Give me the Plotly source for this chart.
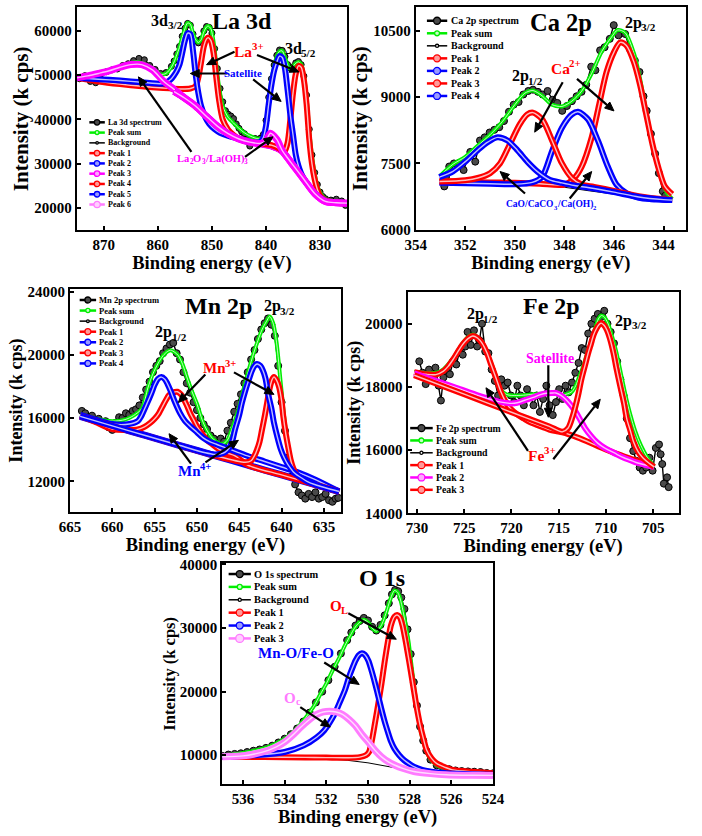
import math
import plotly.graph_objects as go

W, H = 702, 836
FONT = "Liberation Serif"

# ======================= DATA =======================
# ---- La 3d ----
LA_SPEC_X = [874.5, 873.5, 872.5, 871.5, 870.5, 869.5, 868.5, 867.5, 866.5, 865.5,
             864.5, 863.5, 862.5, 861.5, 860.5, 859.5, 858.5, 857.5, 857, 856.5,
             856, 855.5, 855, 854.5, 854, 853.5, 853, 852.5, 852, 851.5,
             851, 850.5, 850, 849.5, 849, 848.5, 848, 847.5, 847, 846.5,
             846, 845.5, 845, 844.5, 844, 843.5, 843, 842.5, 842, 841.5,
             841, 840.5, 840, 839.5, 839, 838.5, 838, 837.5, 837, 836.5,
             836, 835.5, 835, 834.5, 834, 833.5, 833, 832.5, 832, 831.5,
             831, 830.5, 830, 829.5, 829, 828, 827, 826, 825.3]
LA_SPEC_Y = [49200, 49900, 48600, 48300, 50300, 50800, 51200, 51400, 52200, 52600,
             53300, 53800, 53500, 52200, 51300, 50400, 50600, 52000, 53200, 54800,
             56500, 58800, 60600, 61700, 61300, 59300, 57900, 57300, 58200, 60000,
             61000, 60800, 59500, 56000, 51500, 47000, 44000, 42000, 41200, 40800,
             40200, 39000, 38000, 37200, 36800, 35500, 34000, 35400, 35700, 35500,
             35800, 36600, 39800, 45000, 49200, 52300, 54500, 55700, 55600, 54200,
             52400, 51600, 51900, 52800, 53100, 52400, 49800, 45500, 37800, 32000,
             28000, 25300, 23600, 22600, 22100, 21800, 22000, 21600, 20600]
LA_SUM_X = [875, 873, 871, 869, 867, 865, 864, 863, 861, 859.5,
            858.5, 857.5, 857, 856.5, 856, 855.5, 855, 854.5, 854, 853.5,
            853, 852.5, 852, 851.5, 851, 850.7, 850.2, 849.7, 849.2, 848.7,
            848, 847, 846, 845, 844, 843, 842, 841, 840.5, 840,
            839.5, 839, 838.5, 838, 837.5, 837, 836.5, 836, 835.7, 835.3,
            834.5, 834, 833.5, 833, 832.5, 832, 831.5, 831, 830.5, 830,
            829, 828, 827, 825]
LA_SUM_Y = [49400, 49700, 50100, 50800, 51700, 52700, 53000, 52800, 51500, 50200,
            50400, 51800, 53000, 54600, 56300, 58500, 60500, 61800, 61500, 59500,
            58000, 57400, 58000, 59800, 60900, 61100, 60500, 57500, 52500, 47500,
            43000, 40500, 39200, 38000, 37000, 36300, 35800, 35600, 36300, 39500,
            44500, 49000, 52000, 54300, 55400, 55500, 54000, 52300, 51500, 51700,
            52700, 53000, 52500, 50000, 45000, 37500, 31800, 27800, 25000, 23500,
            22000, 21500, 21300, 21100]
LA_BG_X = [875, 871, 867, 863, 859, 857, 855, 853, 851, 849, 847,
           845, 843, 841, 839, 837, 835, 833, 831, 829, 827, 825]
LA_BG_Y = [49300, 48800, 48200, 47600, 47000, 46300, 44800, 43000, 40700, 38500, 36800,
           35600, 34900, 34500, 34000, 32800, 29700, 26500, 23300, 21500, 21200, 21100]
LA_P1_X = [875, 871, 867, 863, 859, 856, 854, 853, 852.5, 852,
           851.5, 851, 850.7, 850.2, 849.7, 849.2, 848.7, 848, 847, 846,
           845, 843, 841, 839, 837, 835, 833, 831, 829, 827, 825]
LA_P1_Y = [49400, 48600, 48000, 47500, 47100, 46900, 47000, 47600, 49600, 53000,
           56500, 58200, 58500, 57800, 55000, 49500, 44500, 40000, 37700, 36500,
           35700, 35000, 34500, 34000, 32800, 29700, 26500, 23300, 21500, 21200, 21100]
LA_P2_X = [875, 871, 867, 863, 859, 858.5, 857.5, 857, 856.5, 856,
           855.5, 855, 854.5, 854, 853.5, 853, 852.5, 852, 851.3, 850.5,
           849.5, 848.5, 847, 845, 843, 841, 839, 837, 835, 833,
           831, 829, 827, 825]
LA_P2_Y = [49400, 49100, 48800, 48400, 48100, 48300, 49200, 50000, 51000, 52400,
           55000, 57800, 59500, 59300, 55500, 50000, 45900, 43000, 40700, 39000,
           37800, 37000, 36300, 35700, 35000, 34500, 34000, 32800, 29700, 26500,
           23300, 21500, 21200, 21100]
LA_P3_X = [875, 873, 871, 869, 867, 865, 863, 861, 859, 857, 855, 853, 851,
           849, 847, 845, 843, 841, 839, 837, 835, 833, 831, 829, 827, 825]
LA_P3_Y = [49400, 49850, 50400, 51000, 51800, 52400, 52400, 51200, 48700, 46800, 44800, 43000, 40700,
           38500, 36800, 35600, 34900, 34500, 34000, 32800, 29700, 26500, 23300, 21500, 21200, 21100]
LA_P4_X = [857, 855, 853, 851, 849, 847, 845, 843, 841, 839,
           837.5, 837, 836.5, 836, 835.5, 835, 834.5, 834, 833.5, 833,
           832.5, 832, 831.5, 831, 830.5, 830, 829, 827, 825]
LA_P4_Y = [46300, 44800, 43000, 40700, 38500, 36800, 35600, 34900, 34600, 34200,
           33400, 32900, 33000, 34800, 40000, 46000, 50300, 52100, 51800, 49000,
           43500, 35500, 30000, 26500, 24200, 22800, 21700, 21200, 21100]
LA_P5_X = [857, 855, 853, 851, 849, 847, 845, 843, 841.5, 841,
           840.5, 840, 839.5, 839, 838.5, 838, 837.5, 837, 836.5, 836,
           835.5, 835, 834.5, 834, 833.5, 833, 832, 831, 829, 827, 825]
LA_P5_Y = [46300, 44800, 43000, 40700, 38500, 36800, 35600, 34900, 34800, 35000,
           35900, 38600, 43500, 47800, 51000, 53000, 54300, 54000, 51500, 46500,
           41000, 36500, 32000, 29500, 27800, 26600, 24900, 23400, 21600, 21200, 21100]
LA_P6_X = [857, 855, 853, 851, 849, 847, 845, 843, 841, 840,
           839.2, 838, 837, 836, 835, 833, 831, 829, 827, 825]
LA_P6_Y = [46300, 44800, 43000, 40700, 38500, 36800, 35600, 34900, 34600, 35200,
           36900, 35500, 33000, 31300, 29700, 26500, 23300, 21500, 21200, 21100]

# ---- Ca 2p ----
CA_SPEC_X = [352.85, 352.78, 352.65, 352.46, 352.26, 352.07, 351.8, 351.6, 351.41, 351.22,
             351.02, 350.83, 350.63, 350.44, 350.24, 350.05, 349.85, 349.66, 349.46, 349.27,
             349.07, 348.88, 348.68, 348.48, 348.29, 348.09, 347.9, 347.7, 347.51, 347.31,
             347.12, 346.92, 346.75, 346.56, 346.38, 346.17, 346.01, 345.82, 345.55, 345.36,
             345.16, 344.97, 344.81, 344.68, 344.51, 344.34, 344.19, 344.03, 343.93]
CA_SPEC_Y = [6980, 7200, 7430, 7500, 7510, 7350, 7760, 7540, 8020, 8090,
             8200, 8260, 8320, 8460, 8670, 8830, 8890, 9060, 9140, 9170,
             9120, 9060, 9140, 8940, 8870, 8690, 8800, 8910, 9020, 9120,
             9280, 9690, 9610, 10060, 10130, 10320, 10630, 10400, 10430, 10090,
             9830, 9570, 9020, 8690, 8170, 7720, 7280, 6870, 6770]
CA_SUM_X = [353.0, 352.5, 352.0, 351.5, 351.0, 350.5, 350.0, 349.6, 349.27, 348.9,
            348.5, 348.1, 347.7, 347.3, 346.9, 346.5, 346.1, 345.85, 345.55, 345.2,
            344.95, 344.7, 344.45, 344.2, 343.9, 343.65]
CA_SUM_Y = [7230, 7480, 7650, 7900, 8150, 8450, 8830, 9090, 9150, 9030,
            8830, 8790, 8910, 9140, 9540, 10030, 10360, 10520, 10460, 10000,
            9420, 8680, 7940, 7350, 6870, 6690]
CA_BG_X = [353.05, 352, 351, 350, 349, 348, 347, 346, 345, 344, 343.65]
CA_BG_Y = [7080, 7070, 7060, 7040, 7010, 6960, 6880, 6800, 6730, 6680, 6670]
CA_P1_X = [353.05, 352.0, 351.0, 350.0, 349.0, 348.0, 347.6, 347.3, 346.9, 346.6,
           346.3, 346.0, 345.75, 345.5, 345.2, 344.95, 344.7, 344.45, 344.2, 343.95, 343.65]
CA_P1_Y = [7090, 7080, 7070, 7060, 7040, 7020, 7170, 7430, 8090, 8830,
           9570, 10020, 10240, 10170, 9800, 9280, 8610, 7940, 7390, 6980, 6800]
CA_P2_X = [353.05, 352.0, 351.0, 350.0, 349.3, 348.9, 348.5, 348.1, 347.7, 347.45,
           347.05, 346.65, 346.25, 345.9, 345.5, 345.0, 344.5, 344.0, 343.65]
CA_P2_Y = [7060, 7050, 7040, 7030, 7070, 7200, 7780, 8310, 8610, 8670,
           8500, 8020, 7430, 7020, 6830, 6720, 6690, 6680, 6670]
CA_P3_X = [353.05, 352.0, 351.5, 351.0, 350.6, 350.2, 349.8, 349.5, 349.27, 348.9,
           348.5, 348.1, 347.7, 347.3, 346.8, 346.0, 345.0, 344.0, 343.65]
CA_P3_Y = [7090, 7120, 7170, 7280, 7500, 7940, 8390, 8610, 8650, 8500,
           8020, 7500, 7170, 7020, 6970, 6880, 6760, 6690, 6680]
CA_P4_X = [353.05, 352.5, 352.0, 351.5, 351.1, 350.7, 350.3, 349.9, 349.5, 349.1,
           348.6, 348.1, 347.6, 347.0, 346.0, 345.0, 344.0, 343.65]
CA_P4_Y = [7190, 7320, 7540, 7800, 7980, 8090, 8020, 7800, 7540, 7320,
           7130, 7060, 7000, 6950, 6850, 6740, 6680, 6670]

# ---- Mn 2p ----
MN_SPEC_X = [663.6, 663.2, 662.8, 662.4, 662.0, 661.6, 661.2, 660.8, 660.4, 660.0,
             659.6, 659.2, 658.8, 658.4, 658.0, 657.6, 657.2, 656.8, 656.4, 656.0,
             655.6, 655.2, 654.8, 654.4, 654.0, 653.6, 653.2, 652.8, 652.4, 652.0,
             651.6, 651.2, 650.8, 650.4, 650.0, 649.6, 649.2, 648.8, 648.4, 648.0,
             647.6, 647.2, 646.8, 646.4, 646.0, 645.6, 645.2, 644.8, 644.4, 644.0,
             643.6, 643.2, 642.8, 642.4, 642.0, 641.6, 641.2, 640.8, 640.4, 640.0,
             639.6, 639.2, 638.8, 638.4, 638.0, 637.6, 637.2, 636.8, 636.4, 636.0,
             635.6, 635.2, 634.8, 634.4, 634.0, 633.6, 633.3]
MN_SPEC_Y = [16450, 16300, 16050, 16150, 15850, 15950, 15700, 15800, 15400, 15250,
             15700, 16050, 16000, 16300, 16200, 16450, 16550, 16800, 17300, 17800,
             18300, 18900, 19300, 19600, 20100, 20400, 20650, 20750, 20100, 19700,
             18900, 18200, 17600, 17000, 16500, 16000, 15600, 15300, 14900, 14700,
             14400, 14700, 14500, 15200, 15700, 16400, 16900, 17500, 18200, 18900,
             19700, 20300, 21000, 21600, 22000, 22300, 21900, 21200, 19300, 17000,
             15200, 13500, 12300, 11800, 11300, 11100, 10900, 11200, 11000, 11300,
             10900, 11000, 11200, 10800, 10700, 10900, 10950]
MN_SUM_X = [663.8, 662, 660, 658.5, 657.5, 656.5, 655.8, 655.2, 654.6, 654.0,
            653.5, 653.1, 652.6, 652.2, 651.7, 651.2, 650.6, 650.0, 649.4, 648.9,
            648.3, 647.7, 647.0, 646.4, 645.8, 645.1, 644.5, 643.9, 643.3, 642.8,
            642.3, 641.8, 641.4, 641.0, 640.6, 640.1, 639.7, 639.3, 638.9, 638.6,
            638.2, 637.8, 637.0, 636, 635, 634, 633.2]
MN_SUM_Y = [16200, 15950, 15800, 15900, 16150, 16600, 17900, 18800, 19450, 19950,
            20200, 20290, 20150, 19950, 19400, 18600, 17700, 16900, 15900, 15300,
            14800, 14500, 14350, 14600, 15400, 16500, 17800, 19000, 20100, 20900,
            21600, 22100, 22420, 22000, 20800, 18200, 16100, 14450, 13400, 12800,
            12400, 12150, 11950, 11800, 11650, 11500, 11350]
MN_BG_X = [663.8, 660, 656, 652, 648, 644, 640, 636, 633.2]
MN_BG_Y = [16100, 15500, 14880, 14260, 13640, 13020, 12400, 11780, 11350]
MN_P1_X = [663.8, 662, 660, 658, 657, 656.2, 655.5, 655.0, 654.5, 654.1,
           653.7, 653.3, 652.8, 652.3, 651.9, 651.6, 651.2, 650.8, 650.4, 650.0,
           649.4, 648.9, 648.2, 647.4, 646.5, 645.5, 644, 640, 636, 633.2]
MN_P1_Y = [16150, 15750, 15300, 15250, 15280, 15440, 15700, 15950, 16300, 16700,
           17100, 17450, 17620, 17660, 17500, 17240, 16800, 16310, 15900, 15480,
           15000, 14650, 14350, 14030, 13800, 13600, 13020, 12400, 11780, 11350]
MN_P2_X = [663.8, 662, 660, 658, 657, 656.6, 656, 655.4, 655.0, 654.6,
           654.2, 653.8, 653.5, 653.1, 652.7, 652.0, 651.4, 650.8, 650, 649.3,
           648.5, 647.7, 646.2, 645, 644, 642, 640, 638, 636, 633.2]
MN_P2_Y = [16200, 15900, 15620, 15620, 15800, 16100, 16800, 17550, 18100, 18480,
           18590, 18450, 18180, 17700, 17140, 16310, 15800, 15480, 15100, 14760,
           14500, 14340, 14030, 13800, 13600, 13250, 12900, 12550, 12100, 11350]
MN_P3_X = [663.8, 660, 656, 652, 648, 644.3, 643.6, 643.2, 642.9, 642.6,
           642.3, 642.0, 641.7, 641.4, 641.1, 640.9, 640.6, 640.3, 640.0, 639.8,
           639.5, 639.2, 638.9, 638.6, 638.2, 637.8, 637.4, 636.5, 635, 633.2]
MN_P3_Y = [16100, 15500, 14880, 14260, 13640, 13200, 13300, 13620, 14000, 14500,
           15300, 16100, 17000, 17900, 18450, 18600, 18400, 17970, 17100, 16100,
           15000, 14100, 13300, 12800, 12400, 12200, 12060, 11850, 11620, 11350]
MN_P4_X = [663.8, 660, 656, 652, 649, 648, 647.3, 646.7, 646.2, 645.8,
           645.5, 645.0, 644.7, 644.3, 643.9, 643.5, 643.2, 642.9, 642.5, 642.2,
           641.9, 641.6, 641.2, 640.9, 640.5, 640.1, 639.7, 639.3, 638.9, 638.6,
           638.2, 637.8, 637, 636, 633.2]
MN_P4_Y = [16100, 15500, 14880, 14260, 13800, 13700, 13720, 13830, 14100, 14600,
           15270, 16200, 16930, 17700, 18380, 19000, 19300, 19420, 19300, 19000,
           18500, 17550, 16600, 15690, 14800, 14030, 13500, 13100, 12800, 12580,
           12400, 12270, 12000, 11780, 11350]

# ---- Fe 2p ----
FE_SPEC_X = [729.76, 729.42, 729.08, 728.73, 728.39, 728.05, 727.71, 727.47, 727.2, 726.86,
             726.52, 726.18, 725.84, 725.5, 725.16, 724.89, 724.65, 724.31, 723.97, 723.63,
             723.39, 723.12, 722.78, 722.44, 722.1, 721.76, 721.42, 721.08, 720.74, 720.4,
             720.06, 719.72, 719.38, 719.04, 718.69, 718.35, 718.01, 717.67, 717.33, 716.99,
             716.65, 716.31, 715.97, 715.63, 715.29, 714.95, 714.61, 714.27, 713.93, 713.59,
             713.24, 712.9, 712.56, 712.22, 711.88, 711.54, 711.2, 710.86, 710.52, 710.18,
             709.84, 709.5, 709.15, 708.81, 708.47, 708.13, 707.79, 707.45, 707.11, 706.77,
             706.43, 706.09, 705.74, 705.4, 705.06, 704.72, 704.38, 704.21, 704.04, 703.87,
             703.53, 703.36]
FE_SPEC_Y = [18810, 18450, 18090, 18550, 18240, 18610, 18040, 17570, 18300, 18550,
             18400, 18810, 18710, 19120, 19020, 19280, 19740, 19330, 19790, 19280,
             19480, 20000, 19120, 19070, 18550, 18190, 17730, 18240, 18040, 18140,
             17730, 17520, 18040, 17730, 17420, 17930, 17730, 17420, 17730, 17210,
             17620, 18040, 17420, 17110, 17520, 17930, 17620, 18040, 17830, 18140,
             18450, 18760, 19230, 19170, 19690, 20000, 20160, 20310, 20210, 20410,
             20000, 19740, 19380, 18810, 18240, 17730, 17000, 16380, 15970, 15660,
             15450, 15350, 15450, 15760, 15350, 16070, 16180, 15870, 15560, 14940,
             15140, 14830]
FE_SUM_X = [730.3, 729, 728, 727.2, 726.2, 725.2, 724.6, 724.1, 723.6, 723.1,
            722.6, 722.1, 721.6, 721.1, 720.5, 720.0, 719.3, 718.7, 718.0, 717.3,
            716.6, 716.0, 715.3, 714.6, 714.1, 713.6, 713.2, 712.8, 712.4, 712.0,
            711.5, 711.1, 710.8, 710.5, 710.2, 709.8, 709.4, 708.9, 708.4, 707.9,
            707.4, 706.9, 706.3, 705.6, 704.9]
FE_SUM_Y = [18470, 18440, 18450, 18560, 18900, 19370, 19580, 19660, 19580, 19420,
            19100, 18720, 18300, 17900, 17760, 17730, 17730, 17740, 17760, 17780,
            17790, 17790, 17780, 17740, 17780, 17850, 18040, 18350, 18660, 19050,
            19500, 19900, 20150, 20260, 20220, 20020, 19650, 19100, 18400, 17700,
            17100, 16600, 16150, 15760, 15490]
FE_BG_X = [730.3, 725, 720, 715, 710, 704.9]
FE_BG_Y = [18370, 17770, 17200, 16630, 16060, 15470]
FE_P1_X = [730.3, 729, 728, 727.2, 726.7, 726.2, 725.7, 725.2, 724.6, 724.1,
           723.6, 723.1, 722.6, 722.1, 721.6, 721.1, 720.6, 720.1, 719.4, 718.7,
           718.0, 717.3, 716.6, 716.0, 715.3, 714.6, 713, 711, 709, 707, 704.9]
FE_P1_Y = [18470, 18400, 18390, 18500, 18650, 18860, 19100, 19330, 19530, 19610,
           19550, 19380, 19080, 18660, 18250, 17830, 17520, 17310, 17130, 17000,
           16880, 16800, 16720, 16650, 16600, 16560, 16400, 16150, 15900, 15690, 15470]
FE_P2_X = [730.3, 728, 726, 724.5, 723, 721.1, 720, 719.4, 718.6, 717.7,
           717, 716.3, 715.6, 715.3, 714.8, 714.3, 713.7, 713.2, 712.7, 712.2,
           711.5, 710.9, 710.2, 709.5, 708.8, 708.1, 707.4, 706.8, 705.8, 704.9]
FE_P2_Y = [18430, 18190, 17990, 17830, 17680, 17520, 17480, 17500, 17580, 17670,
           17750, 17800, 17810, 17810, 17740, 17620, 17420, 17210, 16950, 16690,
           16420, 16230, 16080, 15970, 15860, 15760, 15680, 15610, 15530, 15470]
FE_P3_X = [730.3, 725, 720, 716, 714.6, 714.0, 713.6, 713.2, 712.9, 712.6,
           712.2, 711.9, 711.6, 711.3, 711.0, 710.7, 710.5, 710.2, 709.9, 709.6,
           709.2, 708.9, 708.5, 708.1, 707.8, 707.4, 707.1, 706.6, 706.1, 705.5, 704.9]
FE_P3_Y = [18370, 17770, 17200, 16750, 16580, 16700, 17000, 17420, 17800, 18240,
           18700, 19050, 19350, 19650, 19850, 19980, 20020, 19950, 19800, 19550,
           19070, 18600, 18040, 17500, 17000, 16600, 16280, 15950, 15760, 15600, 15470]

# ---- O 1s ----
O_SPEC_X = [537.0, 536.7, 536.4, 536.1, 535.8, 535.5, 535.2, 534.9, 534.6, 534.3,
            534.0, 533.7, 533.4, 533.1, 532.8, 532.5, 532.2, 531.9, 531.6, 531.3,
            531.0, 530.8, 530.6, 530.4, 530.2, 530.0, 529.8, 529.6, 529.4, 529.2,
            529.0, 528.85, 528.7, 528.55, 528.4, 528.25, 528.1, 527.95, 527.8, 527.65,
            527.5, 527.35, 527.2, 527.0, 526.7, 526.4, 526.1, 525.8, 525.5, 525.2,
            524.9, 524.6, 524.3, 524.0]
O_SPEC_Y = [9900, 10100, 10200, 10300, 10500, 10700, 10900, 11150, 11500, 12000,
            12600, 13300, 14200, 15300, 16700, 18300, 20000, 21800, 23900, 26000,
            28100, 29300, 30400, 31100, 31600, 31200, 30200, 29600, 30500, 32000,
            33900, 35300, 36000, 35800, 34800, 33000, 29800, 25900, 21500, 17800,
            14500, 12300, 10700, 9300, 8400, 8000, 7800, 7600, 7500, 7450,
            7400, 7350, 7200, 7150]
O_SUM_X = [536.96, 536.2, 535.6, 534.8, 534.0, 533.6, 533.24, 532.9, 532.6, 532.3,
           532.0, 531.7, 531.37, 531.1, 530.9, 530.7, 530.5, 530.2, 530.0, 529.8,
           529.6, 529.4, 529.28, 529.1, 528.97, 528.85, 528.73, 528.6, 528.5, 528.35,
           528.19, 528.05, 527.96, 527.85, 527.72, 527.6, 527.49, 527.35, 527.18, 527.0,
           526.7, 526.4, 526.0, 525.5, 525.0, 524.5, 524.0]
O_SUM_Y = [9950, 10250, 10600, 11280, 12560, 13600, 14870, 16300, 17700, 19500,
           21250, 23300, 25400, 27300, 28500, 29700, 30600, 31300, 30900, 30000,
           29500, 30200, 31000, 32700, 34100, 35200, 35900, 35700, 35100, 33200,
           30500, 27800, 25400, 22500, 19200, 16500, 14100, 12200, 10500, 9400,
           8460, 8000, 7700, 7550, 7440, 7300, 7180]
O_BG_X = [537.0, 535.0, 533.0, 532.0, 531.0, 530.0, 529.0, 528.0, 527.0, 526.0, 525.0, 524.0]
O_BG_Y = [9700, 9650, 9550, 9450, 9200, 8800, 8200, 7600, 7150, 6950, 6880, 6850]
O_P1_X = [537.0, 535.0, 533.0, 532.0, 531.0, 530.4, 530.1, 529.95, 529.82, 529.66,
          529.5, 529.35, 529.2, 529.04, 528.9, 528.73, 528.6, 528.47, 528.35, 528.23,
          528.11, 527.95, 527.8, 527.65, 527.49, 527.33, 527.18, 526.95, 526.71, 526.3,
          525.94, 525.0, 524.0]
O_P1_Y = [9740, 9700, 9650, 9620, 9600, 9700, 10000, 10510, 12200, 15130,
          18200, 21280, 24700, 27950, 30400, 31800, 32050, 31700, 30510, 28600,
          26410, 23300, 20260, 17300, 14620, 12500, 10770, 9500, 8720, 8100,
          7690, 7400, 7180]
O_P2_X = [537.0, 535.5, 534.0, 533.08, 532.46, 532.1, 531.84, 531.6, 531.37, 531.1,
          530.91, 530.75, 530.6, 530.45, 530.29, 530.15, 529.98, 529.82, 529.66, 529.5,
          529.35, 529.2, 529.04, 528.9, 528.73, 528.5, 528.27, 528.0, 527.8, 527.4,
          527.02, 526.6, 526.25, 525.0, 524.0]
O_P2_Y = [9740, 10000, 10500, 11540, 12820, 13900, 15130, 16500, 18200, 20300,
          22300, 23700, 24870, 25700, 26050, 25800, 24870, 23200, 21280, 19200,
          17180, 15300, 13590, 12200, 11030, 10000, 9230, 8600, 8200, 7700,
          7440, 7280, 7180, 7000, 6920]
O_P3_X = [537.0, 536.0, 535.5, 534.79, 534.4, 534.01, 533.6, 533.24, 532.85, 532.46,
          532.15, 531.84, 531.53, 531.22, 530.9, 530.6, 530.3, 529.98, 529.67, 529.35,
          529.04, 528.73, 528.3, 527.8, 527.0, 526.25, 525.0, 524.0]
O_P3_Y = [9740, 9900, 10150, 10770, 11300, 12050, 13200, 14360, 15500, 16410,
          16800, 16920, 16800, 16410, 15600, 14620, 13300, 12050, 10800, 9740,
          9000, 8460, 7900, 7440, 7100, 6920, 6840, 6820]

# ======================= STYLE / LAYOUT =======================
RED, BLUE, MAG, PINK, GREEN = "#FF0000", "#0000FF", "#FF00FF", "#FF7BFF", "#00EE00"

fig = go.Figure()


def spectrum(x, y, xa, ya, size=6):
    fig.add_trace(go.Scatter(x=x, y=y, mode="lines+markers", xaxis=xa, yaxis=ya,
                             line=dict(color="black", width=1.4),
                             marker=dict(size=size, color="#4a4a4a",
                                         line=dict(color="black", width=1)),
                             showlegend=False, hoverinfo="skip"))


def band(x, y, color, xa, ya, width=6, inner=1.4):
    fig.add_trace(go.Scatter(x=x, y=y, mode="lines", xaxis=xa, yaxis=ya,
                             line=dict(color=color, width=width, shape="spline", smoothing=0.8),
                             showlegend=False, hoverinfo="skip"))
    fig.add_trace(go.Scatter(x=x, y=y, mode="lines", xaxis=xa, yaxis=ya,
                             line=dict(color="rgba(255,255,255,0.75)", width=inner,
                                       shape="spline", smoothing=0.8),
                             showlegend=False, hoverinfo="skip"))


def background(x, y, xa, ya):
    fig.add_trace(go.Scatter(x=x, y=y, mode="lines", xaxis=xa, yaxis=ya,
                             line=dict(color="black", width=1),
                             showlegend=False, hoverinfo="skip"))


# La 3d
spectrum(LA_SPEC_X, LA_SPEC_Y, "x", "y")
band(LA_SUM_X, LA_SUM_Y, GREEN, "x", "y", width=4, inner=1)
background(LA_BG_X, LA_BG_Y, "x", "y")
band(LA_P1_X, LA_P1_Y, RED, "x", "y")
band(LA_P2_X, LA_P2_Y, BLUE, "x", "y")
band(LA_P3_X, LA_P3_Y, MAG, "x", "y", width=7)
band(LA_P4_X, LA_P4_Y, RED, "x", "y")
band(LA_P5_X, LA_P5_Y, BLUE, "x", "y")
band(LA_P6_X, LA_P6_Y, MAG, "x", "y", width=7)
# Ca 2p
spectrum(CA_SPEC_X, CA_SPEC_Y, "x2", "y2", size=7)
band(CA_SUM_X, CA_SUM_Y, GREEN, "x2", "y2", width=4, inner=1)
background(CA_BG_X, CA_BG_Y, "x2", "y2")
band(CA_P1_X, CA_P1_Y, RED, "x2", "y2")
band(CA_P2_X, CA_P2_Y, BLUE, "x2", "y2")
band(CA_P3_X, CA_P3_Y, RED, "x2", "y2")
band(CA_P4_X, CA_P4_Y, BLUE, "x2", "y2")
# Mn 2p
spectrum(MN_SPEC_X, MN_SPEC_Y, "x3", "y3", size=7)
band(MN_SUM_X, MN_SUM_Y, GREEN, "x3", "y3", width=4, inner=1)
background(MN_BG_X, MN_BG_Y, "x3", "y3")
band(MN_BG_X, MN_BG_Y, BLUE, "x3", "y3", width=7)
band(MN_P1_X, MN_P1_Y, RED, "x3", "y3")
band(MN_P2_X, MN_P2_Y, BLUE, "x3", "y3")
band(MN_P3_X, MN_P3_Y, RED, "x3", "y3")
band(MN_P4_X, MN_P4_Y, BLUE, "x3", "y3")
# Fe 2p
spectrum(FE_SPEC_X, FE_SPEC_Y, "x4", "y4", size=7)
band(FE_SUM_X, FE_SUM_Y, GREEN, "x4", "y4", width=4, inner=1)
background(FE_BG_X, FE_BG_Y, "x4", "y4")
band(FE_P1_X, FE_P1_Y, RED, "x4", "y4")
band(FE_P2_X, FE_P2_Y, MAG, "x4", "y4")
band(FE_P3_X, FE_P3_Y, RED, "x4", "y4")
# O 1s
spectrum(O_SPEC_X, O_SPEC_Y, "x5", "y5", size=7)
band(O_SUM_X, O_SUM_Y, GREEN, "x5", "y5", width=4, inner=1)
background(O_BG_X, O_BG_Y, "x5", "y5")
band(O_P1_X, O_P1_Y, RED, "x5", "y5")
band(O_P2_X, O_P2_Y, BLUE, "x5", "y5")
band(O_P3_X, O_P3_Y, PINK, "x5", "y5", width=7)

# panel geometry (pixel boxes) and axes
PANELS = [
    # (suffix, left, right, top, bottom, xrange, yrange, xticks, yticks, y-title size)
    ("", 68, 347.5, 1.5, 228, [875, 825], [15000, 65300],
     [870, 860, 850, 840, 830], [20000, 30000, 40000, 50000, 60000], 21),
    ("2", 418.5, 697.7, 1.5, 227.5, [354, 343.1], [6000, 11030],
     [354, 352, 350, 348, 346, 344], [6000, 7500, 9000, 10500], 21),
    ("3", 61, 341, 288, 514.7, [665, 633], [10050, 24150],
     [665, 660, 655, 650, 645, 640, 635], [12000, 16000, 20000, 24000], 18),
    ("4", 410, 690.3, 291, 516, [731, 702.3], [14000, 21000],
     [730, 725, 720, 715, 710, 705], [14000, 16000, 18000, 20000], 18),
    ("5", 218.3, 498.3, 566.7, 791.7, [537, 524], [5400, 40200],
     [536, 534, 532, 530, 528, 526, 524], [10000, 20000, 30000, 40000], 16.5),
]

tickfont = dict(family=FONT, size=15, color="black", weight="bold")
layout_axes = {}
for suf, l, r, t, b, xr, yr, xt, yt, yts in PANELS:
    layout_axes["xaxis" + suf] = dict(
        domain=[l / W, r / W], range=xr, anchor="y" + suf, tickvals=xt, tickformat="d",
        ticks="inside", ticklen=4, tickwidth=1.5, tickcolor="black",
        showline=True, mirror=True, linewidth=2, linecolor="black",
        showgrid=False, zeroline=False, tickfont=tickfont,
        title=dict(text="Binding energy (eV)", standoff=0,
                   font=dict(family=FONT, size=18.5, color="black", weight="bold")))
    layout_axes["yaxis" + suf] = dict(
        domain=[1 - b / H, 1 - t / H], range=yr, anchor="x" + suf, tickvals=yt, tickformat="d",
        ticks="inside", ticklen=4, tickwidth=1.5, tickcolor="black",
        showline=True, mirror=True, linewidth=2, linecolor="black",
        showgrid=False, zeroline=False, tickfont=tickfont,
        title=dict(text="Intensity (k cps)", standoff=0,
                   font=dict(family=FONT, size=yts, color="black", weight="bold")))

annotations = []
shapes = []

# approximate advance widths (em) of a bold Times-metric serif, used to lay out
# labels that carry sub- and superscripts piece by piece
CW = {"a": .5, "b": .556, "c": .444, "d": .556, "e": .444, "f": .333, "g": .5, "h": .556,
      "i": .278, "l": .278, "n": .556, "o": .5, "p": .556, "r": .444, "s": .389, "t": .333,
      "C": .722, "F": .667, "H": .778, "L": .667, "M": .944, "O": .778,
      "/": .278, "(": .333, ")": .333, "+": .57, "-": .333, " ": .25}
SUBSCALE = 0.7


def text_w(s, size):
    extra = 1.6 if (s.endswith(")") or s.endswith("CO")) else 0.3
    return sum(CW.get(ch, 0.5) for ch in s) * size + extra


def rich(px, py, parts, size, color="black"):
    """Label centred on (px, py); parts = [(text, 'n'|'sub'|'sup'), ...]."""
    sizes = [size if k == "n" else size * SUBSCALE for _, k in parts]
    widths = [text_w(t, s) for (t, _), s in zip(parts, sizes)]
    x = px - sum(widths) / 2
    for (t, k), s, w in zip(parts, sizes, widths):
        yc = py + (0.3 * size if k == "sub" else -0.32 * size if k == "sup" else 0)
        annotations.append(dict(x=x / W, y=1 - yc / H, xref="paper", yref="paper", text=t,
                                showarrow=False, xanchor="left", yanchor="middle", borderpad=0,
                                font=dict(family=FONT, size=s, color=color, weight="bold")))
        x += w


def txt(px, py, text, size, color="black"):
    annotations.append(dict(x=px / W, y=1 - py / H, xref="paper", yref="paper", text=text,
                            showarrow=False, xanchor="center", yanchor="middle", borderpad=0,
                            font=dict(family=FONT, size=size, color=color, weight="bold")))


def arrow(xa, ya, x, y, ax, ay, head=9.0, half=4.0):
    """Black arrow whose tip sits on data point (x, y); tail offset (ax, ay) in screen px."""
    dx, dy = -ax, ay                      # tail -> tip, y pointing up
    n = math.hypot(dx, dy)
    ux, uy = dx / n, dy / n
    bx, by = -ux * head, -uy * head       # base centre of the head
    nx, ny = -uy * half, ux * half
    common = dict(type="path", xref=xa, yref=ya, xsizemode="pixel", ysizemode="pixel",
                  xanchor=x, yanchor=y)
    shapes.append(dict(path=f"M{ax:.2f},{-ay:.2f} L{bx:.2f},{by:.2f}",
                       line=dict(color="black", width=2.2), **common))
    shapes.append(dict(path=f"M0,0 L{bx + nx:.2f},{by + ny:.2f} L{bx - nx:.2f},{by - ny:.2f} Z",
                       fillcolor="black", line=dict(color="black", width=1), **common))


# La 3d labels
txt(239, 15, "La 3d", 24)
rich(160, 15, [("3d", "n"), ("3/2", "sub")], 16)
rich(298, 43.5, [("3d", "n"), ("5/2", "sub")], 16)
rich(245, 46, [("La", "n"), ("3+", "sup")], 15.5, RED)
txt(240, 68.3, "Satellite", 11, BLUE)
rich(207.5, 155.5, [("La", "n"), ("2", "sub"), ("O", "n"), ("3", "sub"), ("/La(OH)", "n"),
                    ("3", "sub")], 10.5, MAG)
arrow("x", "y", 851.0, 52380, 28, -13)
arrow("x", "y", 833.9, 50740, -42, -17)
arrow("x", "y", 854.0, 50390, 37, 0)
arrow("x", "y", 837.2, 44080, -28, -22)
arrow("x", "y", 863.6, 49630, 53, 75)
arrow("x", "y", 838.7, 36090, -28, 20)
# Ca 2p labels
txt(569, 17, "Ca 2p", 24.5)
rich(649.3, 17, [("2p", "n"), ("3/2", "sub")], 16)
rich(532.7, 71.7, [("2p", "n"), ("1/2", "sub")], 16)
rich(572.7, 63.3, [("Ca", "n"), ("2+", "sup")], 15.5, RED)
rich(557.7, 201.7, [("CaO/CaCO", "n"), ("3", "sub"), ("/Ca(OH)", "n"), ("2", "sub")], 9.5, BLUE)
arrow("x2", "y2", 349.2, 8207, 28, -50)
arrow("x2", "y2", 346.0, 8688, -37, -32)
arrow("x2", "y2", 350.6, 7317, 25, 22)
arrow("x2", "y2", 346.9, 7317, -22, 27)
# Mn 2p labels
txt(215, 305, "Mn 2p", 24)
rich(276, 305, [("2p", "n"), ("3/2", "sub")], 16)
rich(164, 331.7, [("2p", "n"), ("1/2", "sub")], 16)
rich(215, 368.3, [("Mn", "n"), ("3+", "sup")], 15, RED)
rich(188.3, 473.3, [("Mn", "n"), ("4+", "sup")], 15, BLUE)
arrow("x3", "y3", 652.2, 16980, 27, -28)
arrow("x3", "y3", 640.9, 17495, -40, -22)
arrow("x3", "y3", 653.3, 15007, 22, 30)
arrow("x3", "y3", 645.1, 14590, -33, 22)
# Fe 2p labels
txt(559, 305, "Fe 2p", 24)
rich(486, 313.3, [("2p", "n"), ("1/2", "sub")], 16)
rich(639.3, 320, [("2p", "n"), ("3/2", "sub")], 16)
txt(557.7, 358.3, "Satellite", 14, MAG)
rich(547.7, 456.7, [("Fe", "n"), ("3+", "sup")], 15.5, RED)
arrow("x4", "y4", 716.1, 17041, 0, -52)
arrow("x4", "y4", 722.7, 17974, 42, 63)
arrow("x4", "y4", 710.6, 17610, -47, 60)
# O 1s labels
txt(383.3, 581.7, "O 1s", 24)
rich(338.3, 610, [("O", "n"), ("L", "sub")], 15, RED)
txt(295, 658.3, "Mn-O/Fe-O", 15, BLUE)
rich(290, 703.3, [("O", "n"), ("c", "sub")], 15, PINK)
arrow("x5", "y5", 528.64, 28240, -48, -26)
arrow("x5", "y5", 530.42, 21126, -35, -22)
arrow("x5", "y5", 531.81, 14427, -30, -20)

# ---- hand-drawn legends ----
SPEC = ("black", "#4a4a4a", "black", 1.0)
SUMS = (GREEN, "#c8ffc8", GREEN, 0.7)
BGL = ("black", "white", "black", 0.45)
R = (RED, "#ff9a9a", RED, 1.0)
B = (BLUE, "#9a9aff", BLUE, 1.0)
M = (MAG, "#ffa8ff", MAG, 1.0)
P = (PINK, "#ffd0ff", PINK, 1.15)

LEGENDS = [
    # (x0, x1, text_x, y_first, step, font, marker, entries)
    (81, 97, 99, 118.3, 10.45, 8, 5.5,
     [("La 3d spectrum", SPEC), ("Peak sum", SUMS), ("Background", BGL), ("Peak 1", R),
      ("Peak 2", B), ("Peak 3", M), ("Peak 4", R), ("Peak 5", B), ("Peak 6", P)]),
    (430, 451, 454, 15, 12.75, 10, 7,
     [("Ca 2p spectrum", SPEC), ("Peak sum", SUMS), ("Background", BGL), ("Peak 1", R),
      ("Peak 2", B), ("Peak 3", R), ("Peak 4", B)]),
    (71, 88, 89.5, 299, 10.75, 8.5, 6,
     [("Mn 2p spectrum", SPEC), ("Peak sum", SUMS), ("Background", BGL), ("Peak 1", R),
      ("Peak 2", B), ("Peak 3", R), ("Peak 4", B)]),
    (412.7, 436, 438.5, 429.3, 12.55, 9.8, 7,
     [("Fe 2p spectrum", SPEC), ("Peak sum", SUMS), ("Background", BGL), ("Peak 1", R),
      ("Peak 2", M), ("Peak 3", R)]),
    (225, 248, 250, 577.7, 13.1, 10.4, 7,
     [("O 1s spectrum", SPEC), ("Peak sum", SUMS), ("Background", BGL), ("Peak 1", R),
      ("Peak 2", B), ("Peak 3", P)]),
]

for x0, x1, tx, y0, step, fs, ms, entries in LEGENDS:
    for i, (label, (lc, fc, mc, scale)) in enumerate(entries):
        py = y0 + i * step
        yy = 1 - py / H
        shapes.append(dict(type="line", xref="paper", yref="paper", x0=x0 / W, x1=x1 / W,
                           y0=yy, y1=yy,
                           line=dict(color=lc, width=1.5 if (lc == "black" and i > 0) else 2.5)))
        r = ms * scale / 2
        cx = (x0 + x1) / 2
        shapes.append(dict(type="circle", xref="paper", yref="paper",
                           xsizemode="pixel", ysizemode="pixel", xanchor=cx / W, yanchor=yy,
                           x0=-r, x1=r, y0=-r, y1=r, fillcolor=fc, line=dict(color=mc, width=1.3)))
        annotations.append(dict(x=tx / W, y=yy, xref="paper", yref="paper", text=label,
                                showarrow=False, xanchor="left", yanchor="middle", borderpad=0,
                                font=dict(family=FONT, size=fs, color="black", weight="bold")))

fig.update_layout(
    width=W, height=H, margin=dict(l=0, r=0, t=0, b=0),
    paper_bgcolor="white", plot_bgcolor="white", showlegend=False,
    font=dict(family=FONT, color="black", weight="bold"),
    annotations=annotations, shapes=shapes, **layout_axes)

fig.write_html("out.html", config={"displayModeBar": False},
               post_script="document.body.style.margin='0';document.body.style.overflow='hidden';")
